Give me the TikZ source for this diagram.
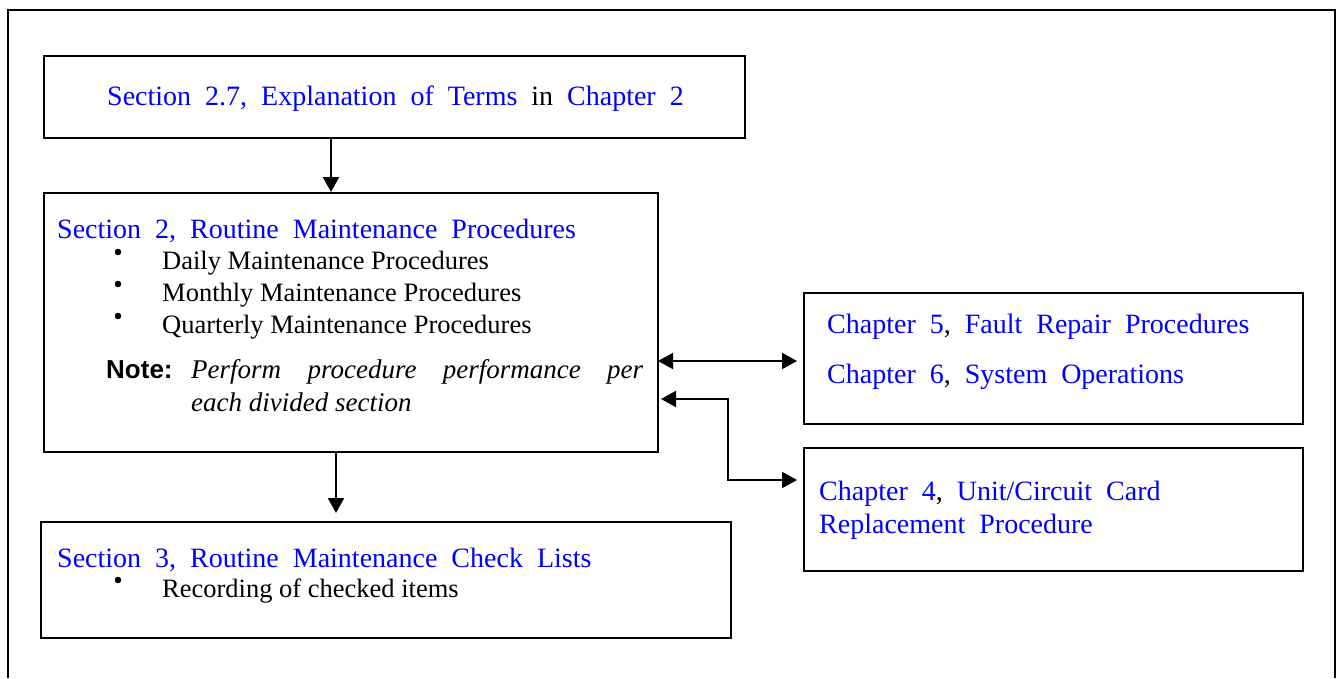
\documentclass[tikz,border=0pt]{standalone}
\usepackage{fontspec}
\setmainfont{Liberation Serif}
\newfontfamily\notesans{Liberation Sans}
\usetikzlibrary{arrows.meta}
\newcommand\hdfontsel{\fontsize{28}{34}\selectfont\spaceskip=14pt\relax}
\tikzset{
  box/.style={draw, line width=2.3pt, inner sep=0pt, outer sep=0pt, rectangle},
  hd/.style={anchor=base west, inner sep=0pt, text=blue, font=\hdfontsel},
  bd/.style={anchor=base west, inner sep=0pt, font=\fontsize{26.5}{32}\selectfont},
  blt/.style={circle, fill=black, inner sep=0pt, outer sep=0pt, minimum size=6.6pt},
  notelbl/.style={anchor=base west, inner sep=0pt, font=\notesans\bfseries\fontsize{26}{30}\selectfont},
  notetxt/.style={anchor=base west, inner sep=0pt, font=\itshape\fontsize{27}{33}\selectfont},
  tipshape/.tip={Triangle[length=15pt,width=16pt]},
  arr/.style={line width=2.1pt, -tipshape},
  darr/.style={line width=2.1pt, tipshape-tipshape},
}
\begin{document}
\begin{tikzpicture}[x=1pt,y=-1pt]
\useasboundingbox (0,0) rectangle (1336,678);
% outer frame
\draw[line width=2.3pt] (8,678) -- (8,10) -- (1335,10) -- (1335,678);

% boxes
\node[box, minimum width=701pt, minimum height=82pt] (b1) at (394.5,97) {};
\node[box, minimum width=614pt, minimum height=259pt] (b2) at (351,322.5) {};
\node[box, minimum width=499pt, minimum height=131pt] (b3) at (1053.5,358.5) {};
\node[box, minimum width=499pt, minimum height=123pt] (b4) at (1053.5,509.5) {};
\node[box, minimum width=690pt, minimum height=116pt] (b5) at (386,580) {};

% box 1 text
\node[hd] (t1) at (107,105) {Section 2.7, Explanation of Terms {\color{black}in} Chapter 2};

% box 2 text
\node[hd] (t2) at (57,238) {Section 2, Routine Maintenance Procedures};
\node[blt] (k1) at (118,252) {};
\node[bd] (t3) at (162,269) {Daily Maintenance Procedures};
\node[blt] (k2) at (118,284) {};
\node[bd] (t4) at (162,301) {Monthly Maintenance Procedures};
\node[blt] (k3) at (118,316) {};
\node[bd] (t5) at (162,333) {Quarterly Maintenance Procedures};
\node[notelbl] (nl) at (106,378) {Note:};
\node[notetxt] (n1) at (191,378) {\makebox[452pt][s]{Perform procedure performance per}};
\node[notetxt] (n2) at (191,411) {each divided section};

% box 3 text
\node[hd] (t6) at (827,333) {Chapter 5{\color{black},} Fault Repair Procedures};
\node[hd] (t7) at (827,383) {Chapter 6{\color{black},} System Operations};

% box 4 text
\node[hd] (t8) at (819,500) {Chapter 4{\color{black},} Unit/Circuit Card};
\node[hd] (t9) at (819,533) {Replacement Procedure};

% box 5 text
\node[hd] (t10) at (57,567) {Section 3, Routine Maintenance Check Lists};
\node[blt] (k4) at (118,580) {};
\node[bd] (t11) at (162,597) {Recording of checked items};

% connectors
\coordinate (c1) at (331,0);
\coordinate (c2) at (336,0);
\coordinate (c3) at (0,361);
\coordinate (c4) at (0,399);
\coordinate (c5) at (728,480);
\draw[arr, shorten >=1pt] (c1 |- b1.south) -- (c1 |- b2.north);
\draw[arr, shorten >=9pt] (c2 |- b2.south) -- (c2 |- b5.north);
\draw[darr, shorten >=7pt] (b2.east |- c3) -- (b3.west |- c3);
\draw[darr, shorten <=3pt, shorten >=7pt] (b2.east |- c4) -| (c5) -- (b4.west |- c5);
\end{tikzpicture}
\end{document}
